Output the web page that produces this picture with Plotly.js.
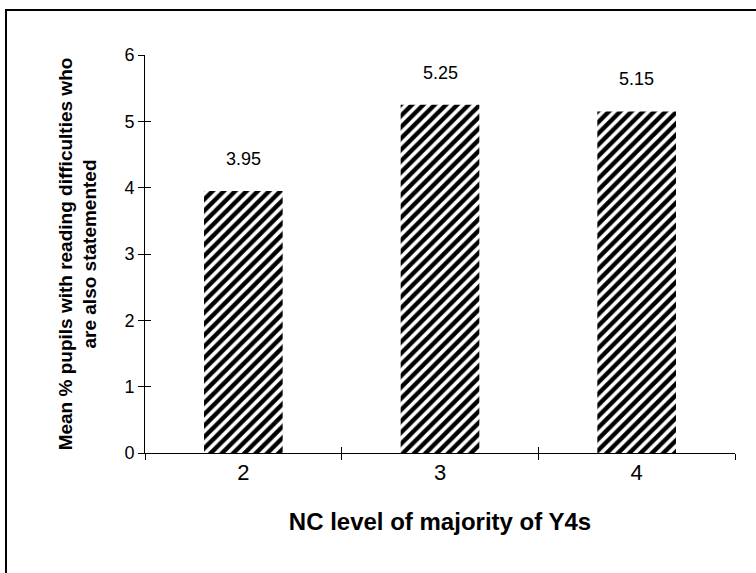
<!DOCTYPE html>
<html>
<head>
<meta charset="utf-8">
<script src="https://cdn.plot.ly/plotly-3.0.1.min.js"></script>
<style>
html,body{margin:0;padding:0;background:#fff;}
#wrap{position:relative;width:756px;height:573px;overflow:hidden;}
#chart{position:absolute;left:0;top:0;width:756px;height:573px;}
#frame{position:absolute;left:5px;top:9px;width:800px;height:700px;border-left:2px solid #000;border-top:2px solid #000;pointer-events:none;}
</style>
</head>
<body>
<div id="wrap"><div id="chart"></div><div id="frame"></div></div>
<script>
const categories = ["2", "3", "4"];
const values = [3.95, 5.25, 5.15];
const valueLabels = ["3.95", "5.25", "5.15"];
const yTickVals = [0, 1, 2, 3, 4, 5, 6];

const FONT = "Liberation Sans, Arial, sans-serif";

const bar = {
  type: "bar",
  x: categories,
  y: values,
  width: 0.4,
  marker: {
    color: "#ffffff",
    line: {width: 0},
    pattern: {shape: "/", fgcolor: "#000000", bgcolor: "#ffffff", size: 8, solidity: 0.55}
  },
  hoverinfo: "skip",
  showlegend: false
};

// invisible trace on overlaying axes to give ticks that cross the axis line
const ghost = {
  type: "scatter", mode: "markers",
  x: categories, y: values,
  xaxis: "x2", yaxis: "y2",
  marker: {opacity: 0}, hoverinfo: "skip", showlegend: false
};

const annotations = categories.map((c, i) => ({
  x: i, y: values[i], xref: "x", yref: "y",
  text: valueLabels[i], showarrow: false,
  yanchor: "bottom", yshift: 20,
  font: {family: FONT, size: 18, color: "#000"}
}));

const layout = {
  width: 756, height: 573,
  margin: {l: 145, r: 21, t: 55, b: 120},
  paper_bgcolor: "#fff", plot_bgcolor: "#fff",
  font: {family: FONT, color: "#000"},
  xaxis: {
    type: "category",
    range: [-0.5, 2.5],
    tickson: "boundaries",
    ticks: "outside", ticklen: 6, tickwidth: 1, tickcolor: "#000",
    showline: true, linecolor: "#000", linewidth: 1,
    showgrid: false, zeroline: false,
    tickfont: {family: FONT, size: 22, color: "#000"},
    title: {text: "<b>NC level of majority of Y4s</b>", standoff: 28,
            font: {family: FONT, size: 24, color: "#000"}},
    automargin: false,
    fixedrange: true
  },
  yaxis: {
    range: [0, 6],
    tickvals: yTickVals,
    ticks: "outside", ticklen: 6, tickwidth: 1, tickcolor: "#000",
    showline: true, linecolor: "#000", linewidth: 1,
    showgrid: false, zeroline: false,
    tickfont: {family: FONT, size: 18, color: "#000"},
    title: {text: "<b>Mean % pupils with reading difficulties who<br>are also statemented</b>",
            standoff: 22, font: {family: FONT, size: 19, color: "#000"}},
    automargin: false,
    fixedrange: true
  },
  xaxis2: {
    type: "category", overlaying: "x", range: [-0.5, 2.5],
    tickson: "boundaries", ticks: "inside", ticklen: 6, tickwidth: 1, tickcolor: "#000",
    showticklabels: false, showgrid: false, zeroline: false, showline: false,
    anchor: "y2", side: "bottom"
  },
  yaxis2: {
    overlaying: "y", range: [0, 6], tickvals: yTickVals,
    ticks: "inside", ticklen: 6, tickwidth: 1, tickcolor: "#000",
    showticklabels: false, showgrid: false, zeroline: false, showline: false,
    anchor: "x2", side: "left"
  },
  annotations: annotations
};

Plotly.newPlot("chart", [bar, ghost], layout, {displayModeBar: false, staticPlot: true});
</script>
</body>
</html>
